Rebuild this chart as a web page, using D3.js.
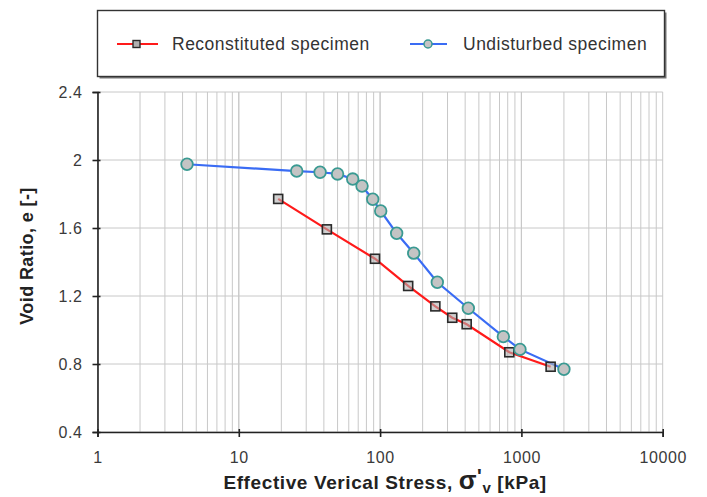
<!DOCTYPE html>
<html>
<head>
<meta charset="utf-8">
<script src="https://cdn.jsdelivr.net/npm/d3@7.9.0/dist/d3.min.js"></script>
<style>
  body { margin: 0; background: #fff; }
  text { font-family: "Liberation Sans", Arial, sans-serif; }
</style>
</head>
<body>
<svg id="chart" width="707" height="497"></svg>
<script>
// reconstituted specimen (squares)
const reconStress = [19, 42, 92, 158, 246, 324, 410, 821, 1610];
const reconVoid = [1.771, 1.592, 1.419, 1.259, 1.139, 1.072, 1.034, 0.869, 0.784];

// undisturbed specimen (circles)
const undistStress = [4.3, 25.7, 37.6, 50, 64, 74.5, 88.7, 101, 131, 173, 254, 421, 745, 977, 2000];
const undistVoid = [1.975, 1.935, 1.928, 1.918, 1.888, 1.847, 1.769, 1.70, 1.569, 1.452, 1.281, 1.128, 0.961, 0.886, 0.769];

const xTicks = [1, 10, 100, 1000, 10000];
const yTicks = [0.4, 0.8, 1.2, 1.6, 2, 2.4];

const svg = d3.select('#chart');
const plotL = 97.5, plotR = 662.7, plotT = 92, plotB = 432;

const x = d3.scaleLog().domain([1, 10000]).range([plotL, plotR]);
const y = d3.scaleLinear().domain([0.4, 2.4]).range([plotB, plotT]);

// grid
let minor = [];
for (let d = 1; d < 10000; d *= 10) {
  for (let k = 1; k <= 10; k++) minor.push(d * k);
}
svg.append('g').selectAll('line').data(minor).join('line')
  .attr('x1', d => x(d)).attr('x2', d => x(d))
  .attr('y1', plotT).attr('y2', plotB)
  .attr('stroke', '#c8c8c8').attr('stroke-width', 1);

svg.append('g').selectAll('line').data(yTicks).join('line')
  .attr('x1', plotL).attr('x2', plotR)
  .attr('y1', d => y(d)).attr('y2', d => y(d))
  .attr('stroke', '#c8c8c8').attr('stroke-width', 1);

// axes
const xAxis = svg.append('g')
  .attr('transform', `translate(0,${plotB})`)
  .call(d3.axisBottom(x).tickValues(xTicks).tickFormat(d3.format('d')).tickSize(5).tickPadding(15));
const yAxis = svg.append('g')
  .attr('transform', `translate(${plotL},0)`)
  .call(d3.axisLeft(y).tickValues(yTicks).tickFormat(d => d).tickSize(5).tickPadding(10));

[xAxis, yAxis].forEach(a => {
  a.select('.domain').attr('stroke', '#222').attr('stroke-width', 1.6);
  a.selectAll('.tick line').attr('stroke', '#222').attr('stroke-width', 1.6);
  a.selectAll('.tick text').attr('fill', '#3a3a3a')
    .style('font-size', '16px').style('letter-spacing', '0.6px');
});
xAxis.selectAll('.tick line').attr('y1', -3);
yAxis.selectAll('.tick line').attr('x1', 3);

// axis titles
svg.append('text')
  .attr('transform', `translate(33,${(plotT + plotB) / 2 - 6}) rotate(-90)`)
  .attr('text-anchor', 'middle')
  .style('font-size', '18px').style('font-weight', 'bold').style('letter-spacing', '0.4px')
  .attr('fill', '#222')
  .text('Void Ratio, e [-]');

const xt = svg.append('text')
  .attr('x', (plotL + plotR) / 2 + 5).attr('y', 489)
  .attr('text-anchor', 'middle')
  .style('font-size', '19px').style('font-weight', 'bold').style('letter-spacing', '0.6px')
  .attr('fill', '#222');
xt.append('tspan').text('Effective Verical Stress, ');
xt.append('tspan').style('font-size', '26px').text('σ');
xt.append('tspan').attr('dy', -6).style('font-size', '20px').text('\'');
xt.append('tspan').attr('dy', 10).style('font-size', '15px').text('v');
xt.append('tspan').attr('dy', -4).text(' [kPa]');

// series
const recon = reconStress.map((s, i) => ({ s, e: reconVoid[i] }));
const undist = undistStress.map((s, i) => ({ s, e: undistVoid[i] }));
const line = d3.line().x(d => x(d.s)).y(d => y(d.e));

svg.append('path').datum(recon).attr('d', line)
  .attr('fill', 'none').attr('stroke', '#ff1a1a').attr('stroke-width', 2.2);
svg.append('path').datum(undist).attr('d', line)
  .attr('fill', 'none').attr('stroke', '#3a6cf4').attr('stroke-width', 2.2);

svg.append('g').selectAll('rect').data(recon).join('rect')
  .attr('x', d => x(d.s) - 4.5).attr('y', d => y(d.e) - 4.5)
  .attr('width', 9).attr('height', 9)
  .attr('fill', '#b0b0b0').attr('fill-opacity', 0.6)
  .attr('stroke', '#2a2a2a').attr('stroke-width', 1.6);

svg.append('g').selectAll('circle').data(undist).join('circle')
  .attr('cx', d => x(d.s)).attr('cy', d => y(d.e)).attr('r', 5.8)
  .attr('fill', '#c4c4c4').attr('stroke', '#3a9a92').attr('stroke-width', 1.8);

// legend
const lg = svg.append('g');
lg.append('rect').attr('x', 99.5).attr('y', 12.5).attr('width', 567).attr('height', 66)
  .attr('fill', '#777');
lg.append('rect').attr('x', 97.5).attr('y', 10.5).attr('width', 567).attr('height', 66)
  .attr('fill', '#fff').attr('stroke', '#333').attr('stroke-width', 1.4);

lg.append('line').attr('x1', 117).attr('x2', 158).attr('y1', 44).attr('y2', 44)
  .attr('stroke', '#ff1a1a').attr('stroke-width', 2.2);
lg.append('rect').attr('x', 133).attr('y', 40.5).attr('width', 7).attr('height', 7)
  .attr('fill', '#b0b0b0').attr('stroke', '#2a2a2a').attr('stroke-width', 1.4);
lg.append('text').attr('x', 172).attr('y', 50)
  .style('font-size', '17.5px').style('letter-spacing', '0.5px').attr('fill', '#333')
  .text('Reconstituted specimen');

lg.append('line').attr('x1', 410).attr('x2', 447).attr('y1', 44).attr('y2', 44)
  .attr('stroke', '#3a6cf4').attr('stroke-width', 2.2);
lg.append('circle').attr('cx', 428).attr('cy', 44).attr('r', 4)
  .attr('fill', '#c4c4c4').attr('stroke', '#3a9a92').attr('stroke-width', 1.5);
lg.append('text').attr('x', 463).attr('y', 50)
  .style('font-size', '17.5px').style('letter-spacing', '0.5px').attr('fill', '#333')
  .text('Undisturbed specimen');
</script>
</body>
</html>
